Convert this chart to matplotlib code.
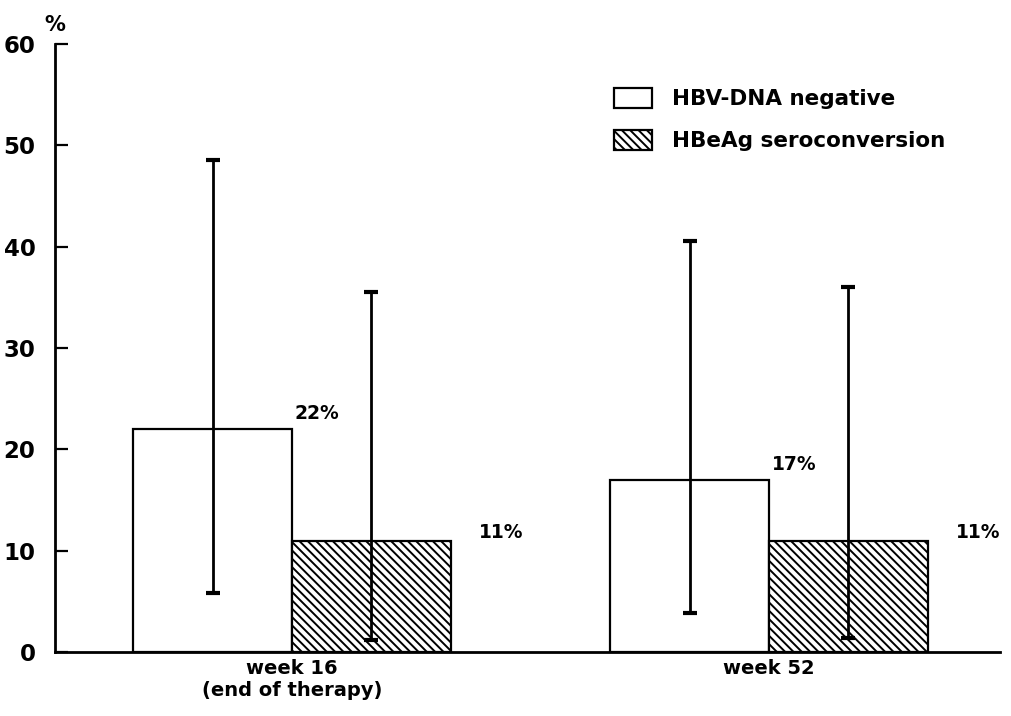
import matplotlib
matplotlib.use("Agg")
import matplotlib.pyplot as plt
from matplotlib.patches import Patch
import numpy as np

categories = ["week 16\n(end of therapy)", "week 52"]
series_names = ["HBV-DNA negative", "HBeAg seroconversion"]
hbv_dna_neg = [22, 17]
hbeag_sero = [11, 11]
hbv_ci_low = [5.8, 3.8]
hbv_ci_high = [48.6, 40.6]
hbe_ci_low = [1.2, 1.4]
hbe_ci_high = [35.5, 36.0]
value_labels_hbv = ["22%", "17%"]
value_labels_hbe = ["11%", "11%"]
yticks = [0, 10, 20, 30, 40, 50, 60]

plt.rcParams['font.family'] = ['DejaVu Sans']
plt.rcParams['font.weight'] = 'bold'
plt.rcParams['hatch.linewidth'] = 1.4

fig = plt.figure(figsize=(10.11, 7.16), dpi=100)
ax = fig.add_axes([0.0544, 0.0894, 0.9346, 0.8491])

x = np.arange(len(categories))
w = 0.333

b1 = ax.bar(x - w / 2, hbv_dna_neg, w, color='white', edgecolor='black', linewidth=1.6, zorder=2)
b2 = ax.bar(x + w / 2, hbeag_sero, w, color='white', edgecolor='black', linewidth=1.6,
            hatch='\\\\\\\\', zorder=2)

err_kw = dict(fmt='none', ecolor='black', elinewidth=2.0, capsize=4.7, capthick=3, zorder=3)
hbv_low = np.array(hbv_dna_neg) - np.array(hbv_ci_low)
hbv_high = np.array(hbv_ci_high) - np.array(hbv_dna_neg)
hbe_low = np.array(hbeag_sero) - np.array(hbe_ci_low)
hbe_high = np.array(hbe_ci_high) - np.array(hbeag_sero)
ax.errorbar(x - w / 2, hbv_dna_neg, yerr=[hbv_low, hbv_high], **err_kw)
ax.errorbar(x + w / 2, hbeag_sero, yerr=[hbe_low, hbe_high], **err_kw)

for xi, v, lab in zip(x, hbv_dna_neg, value_labels_hbv):
    ax.annotate(lab, (xi, v), xytext=(2, 11), textcoords='offset points',
                ha='left', va='center', fontsize=13.5, fontweight='bold')
for xi, v, lab in zip(x, hbeag_sero, value_labels_hbe):
    ax.annotate(lab, (xi + w, v), xytext=(20, 6), textcoords='offset points',
                ha='left', va='center', fontsize=13.5, fontweight='bold')

ax.set_xlim(-0.497, 1.484)
ax.set_ylim(0, 60)
ax.set_yticks(yticks)
ax.set_yticklabels([str(t) for t in yticks], fontsize=16.5, fontweight='bold')
ax.set_xticks(x)
ax.set_xticklabels(categories, fontsize=14, fontweight='bold', linespacing=1.2)
ax.tick_params(axis='x', length=0, pad=5)
ax.tick_params(axis='y', direction='in', length=9, width=1.6, pad=14)

for s in ['top', 'right']:
    ax.spines[s].set_visible(False)
for s in ['left', 'bottom']:
    ax.spines[s].set_linewidth(2.0)

ax.text(0.0, 60.9, "%", fontsize=15, fontweight='bold', ha='center', va='bottom',
        transform=ax.get_yaxis_transform())

handles = [Patch(facecolor='white', edgecolor='black', linewidth=1.6),
           Patch(facecolor='white', edgecolor='black', linewidth=1.6, hatch='\\\\\\\\')]
leg = ax.legend(handles, series_names, loc='upper left', bbox_to_anchor=(0.583, 0.942),
                frameon=False, fontsize=15.5, handlelength=1.75, handleheight=1.05,
                handletextpad=0.9, labelspacing=0.95, borderaxespad=0)
for t in leg.get_texts():
    t.set_fontweight('bold')

fig.savefig("out.png", dpi=100)
